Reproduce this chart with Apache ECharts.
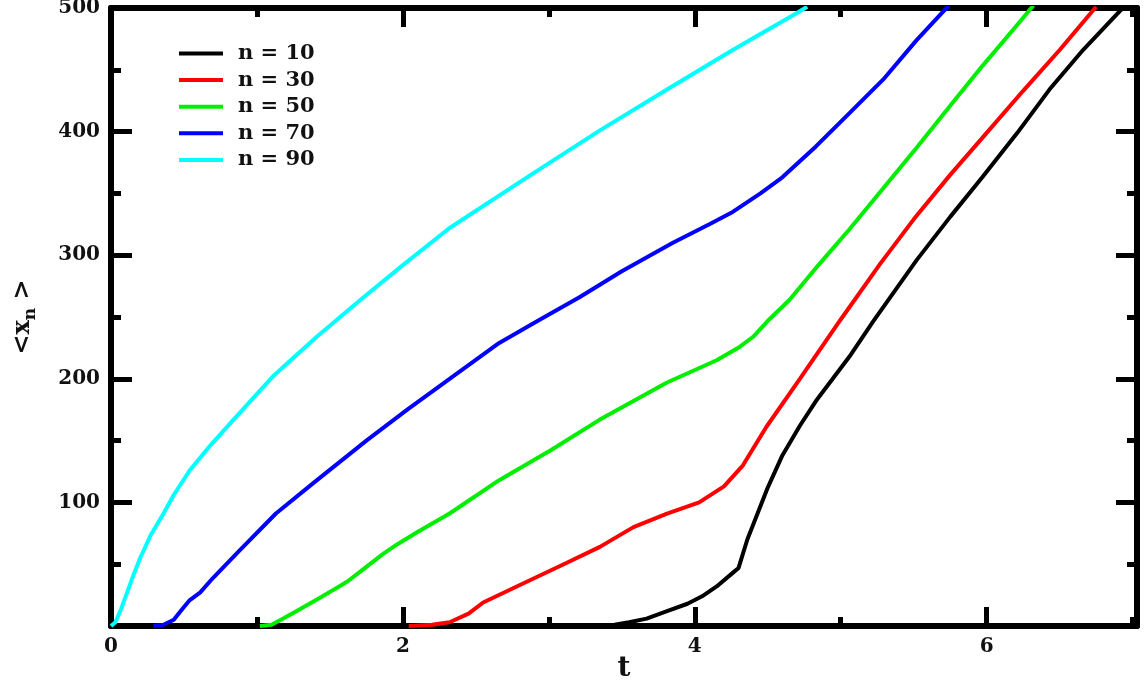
<!DOCTYPE html>
<html><head><meta charset="utf-8">
<script src="https://cdn.jsdelivr.net/npm/echarts@6/dist/echarts.min.js"></script>
<style>html,body{margin:0;padding:0;background:#fff}#c{width:1145px;height:684px}</style>
</head><body><div id="c"></div>
<script>
const seriesNames = ['n = 10', 'n = 30', 'n = 50', 'n = 70', 'n = 90'];
const n10 = [[3.30,0],[3.45,1],[3.55,3],[3.67,6],[3.81,12],[3.95,18],[4.05,24],[4.15,32],[4.26,43],[4.30,47],[4.36,70],[4.42,88],[4.50,112],[4.60,138],[4.72,162],[4.83,182],[5.06,218],[5.22,246],[5.52,296],[5.75,331],[5.97,363],[6.21,399],[6.43,434],[6.66,466],[6.94,501]];
const n30 = [[2.04,0],[2.20,1],[2.32,3],[2.45,10],[2.55,19],[2.78,32],[3.12,51],[3.35,64],[3.58,80],[3.81,91],[4.03,100],[4.20,113],[4.33,130],[4.49,161],[4.72,200],[5.00,248],[5.27,293],[5.50,329],[5.75,365],[6.00,399],[6.25,433],[6.50,466],[6.75,501]];
const n50 = [[1.02,0],[1.10,1],[1.18,6],[1.27,12],[1.36,18],[1.45,24],[1.52,29],[1.62,36],[1.73,46],[1.86,58],[1.96,66],[2.10,76],[2.32,91],[2.66,118],[3.01,142],[3.35,167],[3.81,197],[4.15,215],[4.31,226],[4.40,234],[4.51,248],[4.65,264],[4.84,291],[5.06,321],[5.29,354],[5.52,387],[5.75,421],[5.97,453],[6.20,485],[6.32,502]];
const n70 = [[0.29,0],[0.36,1],[0.43,5],[0.49,14],[0.54,21],[0.61,27],[0.70,39],[0.88,61],[1.13,91],[1.39,116],[1.75,150],[2.03,175],[2.32,200],[2.66,229],[2.94,248],[3.21,266],[3.50,287],[3.85,310],[4.10,325],[4.26,335],[4.45,350],[4.60,363],[4.83,388],[5.06,415],[5.29,442],[5.52,474],[5.74,502]];
const n90 = [[0,0],[0.03,3],[0.07,14],[0.11,27],[0.15,40],[0.20,55],[0.27,73],[0.36,91],[0.43,106],[0.54,126],[0.68,146],[0.84,167],[1.11,202],[1.41,234],[1.71,264],[2.00,292],[2.32,322],[2.89,366],[3.35,401],[3.81,434],[4.26,466],[4.70,496],[4.77,501]];
const xMajorTicks = [0, 2, 4, 6];
const xMinorTicks = [1, 3, 5, 7];
const yMajorTicks = [100, 200, 300, 400, 500];
const yMinorTicks = [50, 150, 250, 350, 450];
const xName = 't';
const yName = '{a|<x}{b|n}{a| >}';

const FONT = 'DejaVu Serif';
const XMAX = 7.03, YMAX = 500;
const chart = echarts.init(document.getElementById('c'));

function xAx(pos, ticks, len, line, labels) {
  return {
    type: 'value', position: pos, min: 0, max: XMAX,
    axisLine: { show: line, onZero: false, lineStyle: { color: '#000', width: 6 } },
    axisTick: { show: true, inside: true, length: len, customValues: ticks, lineStyle: { color: '#000', width: 5 } },
    axisLabel: labels ? { show: true, customValues: labels, margin: 11, fontFamily: FONT, fontWeight: 'bold', fontSize: 20, color: '#111' } : { show: false },
    splitLine: { show: false }
  };
}
function yAx(pos, ticks, len, line, labels) {
  return {
    type: 'value', position: pos, min: 0, max: YMAX,
    axisLine: { show: line, onZero: false, lineStyle: { color: '#000', width: 6 } },
    axisTick: { show: true, inside: true, length: len, customValues: ticks, lineStyle: { color: '#000', width: 5 } },
    axisLabel: labels ? { show: true, customValues: labels, margin: 11, fontFamily: FONT, fontWeight: 'bold', fontSize: 20, color: '#111' } : { show: false },
    splitLine: { show: false }
  };
}
const xAxes = [
  Object.assign(xAx('bottom', xMajorTicks, 19, true, xMajorTicks), {
    name: xName, nameLocation: 'middle', nameGap: 29, nameMoveOverlap: false,
    nameTextStyle: { fontFamily: FONT, fontWeight: 'bold', fontSize: 28, color: '#111' }
  }),
  xAx('bottom', xMinorTicks, 9, false, null),
  xAx('top', xMajorTicks, 19, true, null),
  xAx('top', xMinorTicks, 9, false, null)
];
const yAxes = [
  Object.assign(yAx('left', yMajorTicks, 21, true, yMajorTicks), {
    name: yName, nameLocation: 'middle', nameGap: 72, nameRotate: 90, nameMoveOverlap: false,
    nameTextStyle: {
      fontFamily: FONT, fontWeight: 'bold', fontSize: 24, color: '#111',
      rich: {
        a: { fontFamily: FONT, fontWeight: 'bold', fontSize: 24, color: '#111', verticalAlign: 'middle' },
        b: { fontFamily: FONT, fontWeight: 'bold', fontSize: 17, color: '#111', verticalAlign: 'bottom', padding: [16, 0, 0, 0] }
      }
    }
  }),
  yAx('left', yMinorTicks, 10, false, null),
  yAx('right', yMajorTicks, 21, true, null),
  yAx('right', yMinorTicks, 10, false, null)
];

const colors = ['#000000', '#ff0000', '#00ee00', '#0000ff', '#00ffff'];
const datas = [n10, n30, n50, n70, n90];
const series = datas.map((d, i) => ({
  name: seriesNames[i], type: 'line', data: d, xAxisIndex: 0, yAxisIndex: 0,
  showSymbol: false, symbol: 'none', color: colors[i],
  lineStyle: { color: colors[i], width: 4 }, clip: true, animation: false, z: 3
}));

chart.setOption({
  animation: false,
  backgroundColor: '#ffffff',
  grid: { left: 111, right: 8, top: 8, bottom: 58, containLabel: false, outerBoundsMode: 'none' },
  xAxis: xAxes,
  yAxis: yAxes,
  legend: {
    orient: 'vertical', left: 174, top: 38, itemWidth: 44, itemHeight: 4, itemGap: 5.6,
    icon: 'rect', data: seriesNames,
    textStyle: { fontFamily: FONT, fontWeight: 'bold', fontSize: 21, color: '#111', lineHeight: 20, padding: [0, 0, 0, 10] }
  },
  series: series
});
</script></body></html>
